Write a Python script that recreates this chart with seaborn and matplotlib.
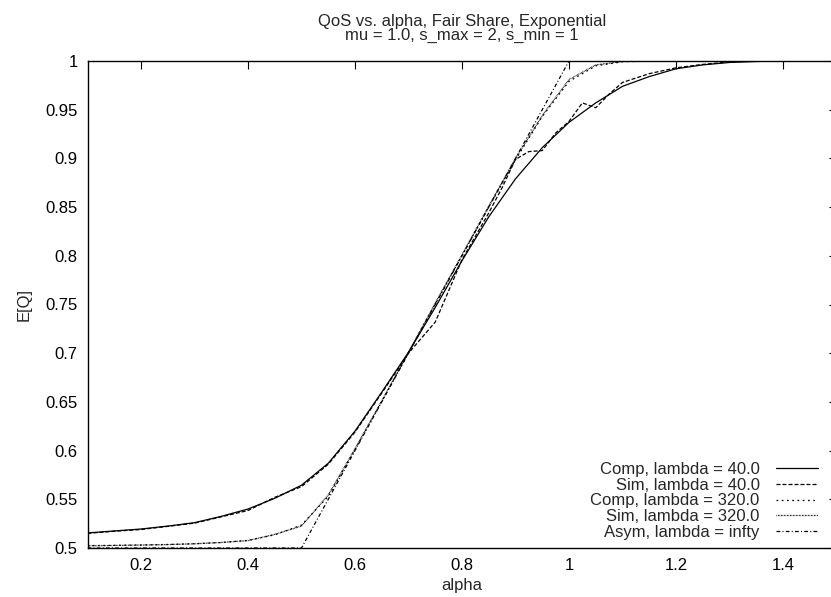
import matplotlib
matplotlib.use("Agg")
import matplotlib.pyplot as plt
import pandas as pd
import seaborn as sns

# --- data -----------------------------------------------------------------
alpha = [0.10, 0.15, 0.20, 0.25, 0.30, 0.35, 0.40, 0.45, 0.50, 0.55,
         0.60, 0.65, 0.70, 0.75, 0.80, 0.85, 0.90, 0.95, 1.00, 1.05,
         1.10, 1.15, 1.20, 1.25, 1.30, 1.35, 1.40, 1.45, 1.50]

comp_40 = [0.5155, 0.5175, 0.5195, 0.5225, 0.5260, 0.5325, 0.5400, 0.5510,
           0.5645, 0.5870, 0.6200, 0.6600, 0.7010, 0.7470, 0.7950, 0.8400,
           0.8790, 0.9110, 0.9370, 0.9570, 0.9740, 0.9840, 0.9920, 0.9960,
           0.9985, 0.9995, 1.0000, 1.0000, 1.0000]

sim_40_alpha = [0.10, 0.15, 0.20, 0.25, 0.30, 0.35, 0.40, 0.45, 0.50, 0.55,
                0.60, 0.65, 0.70, 0.75, 0.80, 0.85, 0.875, 0.90, 0.925, 0.95,
                0.975, 1.00, 1.025, 1.05, 1.075, 1.10, 1.15, 1.20, 1.25,
                1.30, 1.35, 1.40, 1.45, 1.50]
sim_40 = [0.5150, 0.5172, 0.5190, 0.5222, 0.5255, 0.5320, 0.5385, 0.5520,
          0.5630, 0.5860, 0.6190, 0.6590, 0.7000, 0.7320, 0.7960, 0.8440,
          0.8700, 0.8990, 0.9070, 0.9080, 0.9260, 0.9380, 0.9570, 0.9520,
          0.9660, 0.9780, 0.9870, 0.9930, 0.9965, 0.9990, 1.0000, 1.0000,
          1.0000, 1.0000]

comp_320 = [0.5025, 0.5027, 0.5031, 0.5036, 0.5044, 0.5056, 0.5078, 0.5135,
            0.5235, 0.5530, 0.6010, 0.6505, 0.7005, 0.7505, 0.8005, 0.8500,
            0.8985, 0.9430, 0.9790, 0.9950, 0.9992, 1.0000, 1.0000, 1.0000,
            1.0000, 1.0000, 1.0000, 1.0000, 1.0000]

sim_320 = [0.5022, 0.5026, 0.5030, 0.5035, 0.5043, 0.5057, 0.5076, 0.5140,
           0.5225, 0.5545, 0.6020, 0.6510, 0.7010, 0.7515, 0.8010, 0.8510,
           0.9000, 0.9440, 0.9810, 0.9960, 0.9995, 1.0000, 1.0000, 1.0000,
           1.0000, 1.0000, 1.0000, 1.0000, 1.0000]

asym_inf = [0.50, 0.50, 0.50, 0.50, 0.50, 0.50, 0.50, 0.50, 0.50, 0.55,
            0.60, 0.65, 0.70, 0.75, 0.80, 0.85, 0.90, 0.95, 1.00, 1.00,
            1.00, 1.00, 1.00, 1.00, 1.00, 1.00, 1.00, 1.00, 1.00]

yticks = [0.5, 0.55, 0.6, 0.65, 0.7, 0.75, 0.8, 0.85, 0.9, 0.95, 1.0]
ytick_labels = ["0.5", "0.55", "0.6", "0.65", "0.7", "0.75", "0.8", "0.85",
                "0.9", "0.95", "1"]
xticks = [0.2, 0.4, 0.6, 0.8, 1.0, 1.2, 1.4]
xtick_labels = ["0.2", "0.4", "0.6", "0.8", "1", "1.2", "1.4"]

series = [
    ("Comp, lambda = 40.0", alpha, comp_40, (None, None)),
    ("Sim, lambda = 40.0", sim_40_alpha, sim_40, (3.2, 1.6)),
    ("Comp, lambda = 320.0", alpha, comp_320, (1.4, 2.8)),
    ("Sim, lambda = 320.0", alpha, sim_320, (0.6, 0.6)),
    ("Asym, lambda = infty", alpha, asym_inf, (3.0, 1.8, 0.8, 1.8)),
]

sns.set_theme(style="white")
plt.rcParams["font.family"] = ["Liberation Sans", "DejaVu Sans"]
plt.rcParams["font.size"] = 12

fig = plt.figure(figsize=(8.31, 5.97), dpi=100)
# right spine sits just past the image edge, as in the reference
ax = fig.add_axes([87.5 / 831, 49 / 597, 749 / 831, 487 / 597])

for label, xs, ys, dash in series:
    df = pd.DataFrame({"alpha": xs, "EQ": ys})
    kw = {}
    if dash[0] is not None:
        kw["dashes"] = dash
    sns.lineplot(data=df, x="alpha", y="EQ", ax=ax, color="black",
                 linewidth=0.9, label=label, **kw)

ax.set_xlim(0.1, 1.5)
ax.set_ylim(0.5, 1.0)
ax.set_xticks(xticks)
ax.set_xticklabels(xtick_labels)
ax.set_yticks(yticks)
ax.set_yticklabels(ytick_labels)
ax.tick_params(direction="in", length=6, width=0.8, top=True, right=True,
               labelsize=12, colors="black", pad=7)
for sp in ax.spines.values():
    sp.set_color("black")
    sp.set_linewidth(1.0)

ax.set_xlabel("alpha", fontsize=12, labelpad=4)
ax.set_ylabel("E[Q]", fontsize=12, labelpad=10)
ax.set_title("QoS vs. alpha, Fair Share, Exponential\n"
             "mu = 1.0, s_max = 2, s_min = 1",
             fontsize=12, pad=15, linespacing=0.95)

ax.legend(loc="lower right", bbox_to_anchor=(818 / 831, 57 / 597),
          bbox_transform=fig.transFigure, frameon=False, markerfirst=False,
          fontsize=12, handlelength=2.5, handletextpad=1.0,
          labelspacing=0.05, borderpad=0, borderaxespad=0)

fig.savefig("out.png", dpi=100)
